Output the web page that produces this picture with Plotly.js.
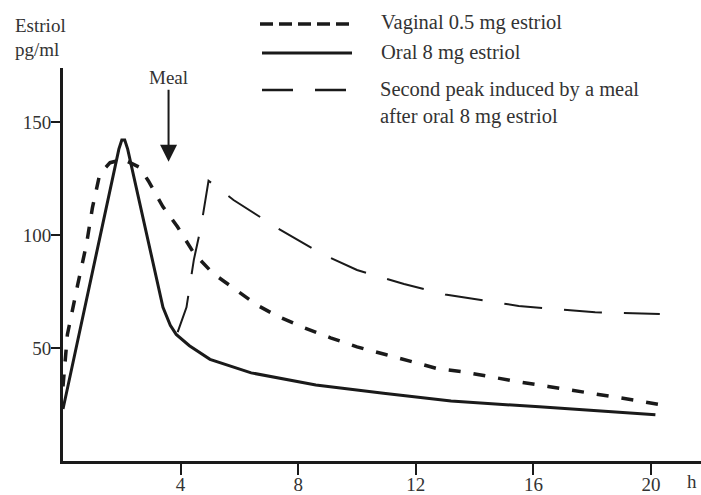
<!DOCTYPE html>
<html>
<head>
<meta charset="utf-8">
<script src="https://cdn.plot.ly/plotly-3.0.1.min.js"></script>
<style>html,body{margin:0;padding:0;background:#fff;}#chart{width:701px;height:495px;}</style>
</head>
<body>
<div id="chart"></div>
<script>
// ---- data (hours, pg/ml) ----
const oralX = [0, 1.9, 2.0, 2.1, 2.2, 3.4, 3.65, 3.85, 4.3, 5.0, 6.4, 8.6, 10.9, 13.2, 16.2, 20.15];
const oralY = [23, 138, 142, 142, 138, 68, 60, 56, 51, 45, 39, 33.6, 30, 26.5, 24, 20.5];

const vagX = [0, 0.15, 0.5, 0.8, 1.0, 1.25, 1.6, 2.05, 2.6, 2.9, 3.4, 3.9, 4.45, 5.1, 5.8, 6.6, 7.3, 8.2, 9.1, 10, 11, 11.9, 12.7, 13.6, 14.5, 15.5, 16.5, 17.5, 18.5, 19.4, 20.5];
const vagY = [33, 56, 78, 96, 112, 127, 132, 133.5, 130, 124, 112.5, 103.5, 92, 83, 76.5, 69, 64, 59, 54.5, 50.5, 47, 44, 41, 39.5, 37.3, 35, 33, 31, 29, 27, 24.5];

const mealX = [3.9, 4.2, 4.45, 4.7, 4.95, 5.8, 7.3, 8.75, 10, 11.6, 13, 14, 15.5, 16.5, 18.1, 20.3];
const mealY = [57, 68, 89, 104, 124, 115.5, 103, 92, 84.5, 78.3, 73.7, 71.7, 68.6, 67.5, 65.8, 65];

const xTicks = [4, 8, 12, 16, 20];
const yTicks = [50, 100, 150];
const legendLabels = ["Vaginal 0.5 mg estriol", "Oral 8 mg estriol", "Second peak induced by a meal", "after oral 8 mg estriol"];
const mealLabel = "Meal";
const mealTime = 3.59, mealLevel = 132.4;

// ---- layout geometry ----
const L = 63, T = 68, W = 638, H = 393;
const px = p => (p - L) / W;
const py = p => (T + H - p) / H;
const INK = '#1a1a1a', TXT = '#333';
const FONT = 'Liberation Serif, Times New Roman, serif';

const traces = [
  {x: vagX, y: vagY, mode: 'lines', line: {color: INK, width: 3.5, dash: '12px,13px'}, name: legendLabels[0]},
  {x: oralX, y: oralY, mode: 'lines', line: {color: INK, width: 3}, name: legendLabels[1]},
  {x: mealX, y: mealY, mode: 'lines', line: {color: INK, width: 2, dash: '38px,22px'}, name: legendLabels[2]}
];

const shapes = [
  {type: 'line', xref: 'paper', yref: 'paper', x0: px(260), x1: px(352), y0: py(24), y1: py(24), line: {color: INK, width: 3.5, dash: '13px,6px'}},
  {type: 'line', xref: 'paper', yref: 'paper', x0: px(262), x1: px(352), y0: py(53), y1: py(53), line: {color: INK, width: 3}},
  {type: 'line', xref: 'paper', yref: 'paper', x0: px(262), x1: px(352), y0: py(90), y1: py(90), line: {color: INK, width: 2.5, dash: '31px,22px'}}
];

const ann = (text, x, y, xa, size) => ({text, xref: 'paper', yref: 'paper', x: px(x), y: py(y), xanchor: xa || 'left', yanchor: 'middle', showarrow: false, font: {family: FONT, size: size || 19, color: TXT}});

const hLabel = ann('h', 698, 481, 'right');
hLabel.borderpad = 0;

const annotations = [
  ann(legendLabels[0], 379, 23, 'left', 20.5),
  ann(legendLabels[1], 379, 52, 'left', 20.5),
  ann(legendLabels[2], 378, 89, 'left', 20.5),
  ann(legendLabels[3], 378, 117, 'left', 20.5),
  ann('Estriol', 13, 25),
  ann('pg/ml', 13, 50),
  hLabel,
  {text: mealLabel, x: mealTime, y: mealLevel, xref: 'x', yref: 'y', showarrow: true, ax: 0, ay: -84,
   arrowhead: 2, arrowsize: 1.7, arrowwidth: 2, arrowcolor: INK, standoff: 0,
   font: {family: FONT, size: 19, color: TXT}}
];

const layout = {
  width: 701, height: 495,
  margin: {l: L, r: 701 - L - W, t: T, b: 495 - T - H, pad: 0},
  paper_bgcolor: '#fff', plot_bgcolor: '#fff',
  showlegend: false,
  font: {family: FONT, size: 19, color: TXT},
  xaxis: {range: [0, W / 29.4], tickvals: xTicks, ticktext: xTicks.map(String), ticks: 'outside', ticklen: 11, tickwidth: 2, tickcolor: INK,
          ticklabelstandoff: -6,
          showline: true, linecolor: INK, linewidth: 2.5, showgrid: false, zeroline: false, fixedrange: true,
          tickfont: {family: FONT, size: 19, color: TXT}},
  yaxis: {range: [0, H / 2.26], tickvals: yTicks, ticktext: yTicks.map(String), ticks: 'outside', ticklen: 9, tickwidth: 2.5, tickcolor: INK,
          ticklabelstandoff: -4,
          showline: true, linecolor: INK, linewidth: 3, showgrid: false, zeroline: false, fixedrange: true,
          tickfont: {family: FONT, size: 19, color: TXT}},
  shapes, annotations
};

Plotly.newPlot('chart', traces, layout, {displayModeBar: false, staticPlot: true});
</script>
</body>
</html>
